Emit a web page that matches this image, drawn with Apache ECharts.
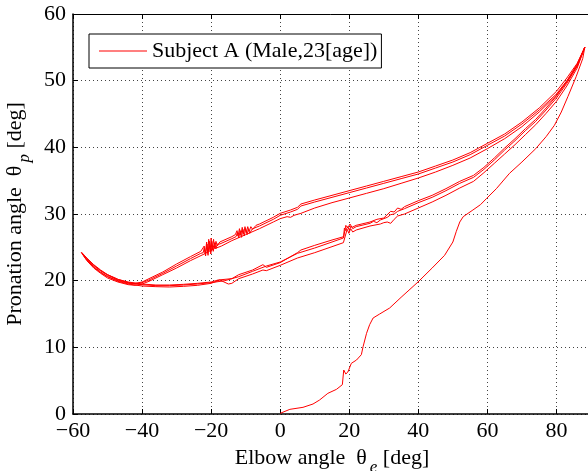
<!DOCTYPE html>
<html><head><meta charset="utf-8">
<script src="https://cdn.jsdelivr.net/npm/echarts@6/dist/echarts.min.js"></script>
<style>html,body{margin:0;padding:0;background:#fff}#c{width:588px;height:471px}</style>
</head><body><div id="c"></div>
<script>
// ---- Data (elbow angle [deg], pronation angle [deg]) ----
const seriesName = 'Subject A (Male,23[age])';
const xRange = [-60, 90];
const yRange = [0, 60];

// initial rise trace
const riseTrace = [[0,0.1],[2.8,0.7],[6.6,1.0],[9.5,1.5],[11.4,2.1],[13.8,3.1],[16.3,3.7],[18.0,4.4],[18.4,6.6],[19.0,6.0],[19.6,6.3],[20.6,7.6],[22.1,8.1],[23.5,8.9],[24.0,10.1],[25.0,12.1],[25.9,13.4],[26.9,14.4],[28.8,15.0],[31.7,15.9],[35,17.5],[39.9,19.8],[44,21.9],[47.6,23.8],[50,25.8],[51,27.4],[52,28.8],[53,29.6],[55.8,30.6],[58,31.4],[59.7,32.3],[62.6,33.8],[66.4,36.1],[70,37.8],[74,39.8],[77,41.6],[79.4,43.3],[81.4,45.3],[83.3,47.6],[85.7,50.6],[87.6,53.3],[88.2,55.0]];

// upper branch traces
const upper1 = [[-57.3,24.0],[-56,23.1],[-54,22.0],[-52,21.2],[-50,20.6],[-47,20.0],[-44,19.6],[-42,19.6],[-40,19.8],[-38,20.3],[-34,21.3],[-30,22.5],[-26,23.6],[-23,24.4],[-22.5,24.5],[-22,25.2],[-21.7,24.0],[-21.3,25.8],[-21,24.1],[-20.7,26.2],[-20.3,24.3],[-20,26.4],[-19.7,24.6],[-19.3,26.2],[-19,24.9],[-18.6,25.9],[-18.2,25.2],[-17.5,25.8],[-14,26.6],[-13,26.9],[-12.5,27.5],[-12.2,26.7],[-11.8,27.8],[-11.4,26.8],[-11,28.0],[-10.6,27.0],[-10.2,28.1],[-9.8,27.2],[-9.4,28.1],[-9,27.4],[-8.5,28.1],[-8,27.7],[-7,28.3],[-6,28.5],[-2,29.5],[0,30.1],[3,30.6],[5,31.0],[6,31.5],[10,32.1],[15,32.8],[20,33.5],[25,34.2],[30,34.9],[35,35.6],[40,36.3],[45,37.2],[50,38.1],[55,39.2],[60,40.6],[65,42.0],[70,43.8],[75,45.9],[80,48.4],[83,50.4],[86,52.6],[88.2,55.0]];
const upper2 = [[-57.6,24.2],[-56,23.3],[-54,22.3],[-52,21.5],[-50,20.9],[-47,20.2],[-44,19.7],[-42,19.5],[-40,19.7],[-38,20.1],[-34,21.1],[-30,22.2],[-26,23.3],[-23,24.1],[-22.3,24.2],[-22,24.9],[-21.6,23.7],[-21.2,25.5],[-20.9,23.8],[-20.5,25.9],[-20.1,24.0],[-19.8,25.9],[-19.4,24.4],[-19.0,25.7],[-18.6,24.8],[-18.2,25.5],[-17.5,25.5],[-14,26.3],[-12.8,26.6],[-12.4,27.2],[-12,26.4],[-11.6,27.5],[-11.2,26.5],[-10.8,27.7],[-10.4,26.7],[-10,27.8],[-9.6,26.9],[-9.2,27.7],[-8.8,27.1],[-8.2,27.7],[-7,28.0],[-6,28.2],[-2,29.2],[0,29.8],[3,30.3],[5,30.7],[6,31.2],[10,31.8],[15,32.5],[20,33.2],[25,33.9],[30,34.6],[35,35.3],[40,36.0],[45,36.9],[50,37.8],[55,38.9],[60,40.3],[65,41.7],[70,43.5],[75,45.6],[80,48.0],[83,50.0],[86,52.3],[88.2,55.0]];
const upper3 = [[-57.4,24.1],[-56,23.0],[-54,21.9],[-52,21.1],[-50,20.4],[-47,19.8],[-44,19.4],[-42,19.3],[-40,19.5],[-38,19.9],[-34,20.9],[-30,21.9],[-26,23.0],[-22,24.0],[-21,24.3],[-20.5,25.2],[-20,24.4],[-19.5,25.3],[-19,24.8],[-17,25.2],[-14,26.0],[-10,26.9],[-6,27.8],[-2,28.8],[0,29.3],[2,29.6],[3,29.5],[4,29.8],[6,30.1],[10,30.9],[15,31.7],[20,32.4],[25,33.1],[30,33.8],[35,34.6],[40,35.4],[45,36.3],[50,37.3],[55,38.4],[60,39.8],[65,41.3],[70,43.1],[75,45.3],[80,47.8],[83,49.8],[86,52.2],[88.2,55.0]];

// lower (return) branch traces
const lower1 = [[88.2,55.0],[86,52.2],[83,49.6],[80,47.4],[77,45.6],[74,43.9],[71,42.5],[68,41.0],[65,39.6],[62,38.1],[59,36.7],[56,35.5],[52,34.6],[48,33.5],[44,32.5],[40,31.7],[36,30.8],[34,30.4],[33,30.0],[32,29.9],[31,29.5],[30,29.3],[29,29.1],[28,28.7],[27,28.9],[26,28.6],[22,28.1],[21,27.8],[20.5,28.2],[20,27.6],[19.5,28.1],[19,27.5],[18.6,27.9],[18.3,26.4],[15,25.8],[10,24.9],[5,24.1],[0,22.8],[-4,22.2],[-8,21.4],[-12,20.6],[-16,20.0],[-20,19.7],[-24,19.5],[-28,19.35],[-32,19.25],[-36,19.25],[-40,19.4],[-44,19.7],[-47,20.1],[-50,20.8],[-52,21.5],[-54,22.3],[-56,23.3],[-57.5,24.2]];
const lower2 = [[88.2,55.0],[86,51.9],[83,49.2],[80,46.9],[77,45.1],[74,43.4],[71,41.9],[68,40.4],[65,39.0],[62,37.6],[59,36.2],[56,34.9],[52,33.9],[48,32.8],[44,31.8],[40,30.9],[36,30.0],[34,29.7],[33,29.2],[32,28.6],[31,28.8],[30,28.7],[29,28.5],[26,28.2],[22,27.6],[21,27.3],[20.4,27.8],[19.9,27.1],[19.4,27.7],[19,27.0],[18.6,27.2],[18.3,25.7],[15,25.1],[10,24.2],[5,23.4],[0,22.3],[-4,21.5],[-5,21.6],[-8,21.0],[-12,20.3],[-14,19.6],[-15,19.5],[-17.5,20.1],[-20,19.6],[-24,19.3],[-28,19.15],[-32,19.05],[-36,19.1],[-40,19.2],[-44,19.5],[-47,19.9],[-50,20.6],[-52,21.3],[-54,22.1],[-56,23.1],[-57.2,24.0]];
const lower3 = [[88.2,55.0],[86,52.5],[83,49.9],[80,47.7],[77,45.9],[74,44.2],[71,42.8],[68,41.3],[65,39.9],[62,38.4],[59,37.0],[56,35.8],[52,34.9],[48,33.8],[44,32.8],[40,32.0],[36,31.1],[35,30.7],[34,30.9],[33,30.3],[32,30.4],[30,29.4],[28,29.2],[26,28.8],[22,28.3],[20.8,28.0],[20.2,28.5],[19.6,27.9],[19,28.3],[18.7,28.1],[18.4,26.6],[15,26.1],[10,25.3],[6,24.6],[5,24.2],[0,22.7],[-4,22.0],[-5,22.4],[-8,21.6],[-12,20.9],[-14,20.3],[-18,20.1],[-20,19.8],[-24,19.6],[-28,19.45],[-32,19.35],[-36,19.35],[-40,19.5],[-44,19.8],[-47,20.2],[-50,20.9],[-52,21.6],[-54,22.4],[-56,23.4],[-57.6,24.3]];

const traces = [riseTrace, upper1, lower1, upper2, lower2, upper3, lower3];

// ---- Chart ----
const FONT = 'Liberation Serif';
const chart = echarts.init(document.getElementById('c'), null, {renderer: 'canvas'});
const minus = v => String(v).replace('-', '\u2212');
const subRich = {
  n: {fontFamily: FONT, fontSize: 22, color: '#000', verticalAlign: 'top'},
  s: {fontFamily: FONT, fontSize: 17, fontStyle: 'italic', color: '#000', verticalAlign: 'top', padding: [12, 0, 0, 3]}
};
const gridDots = {show: true, lineStyle: {color: '#444', type: [1, 3], width: 1}};

chart.setOption({
  animation: false,
  backgroundColor: '#fff',
  grid: {left: 73, top: 14, width: 518, height: 400, outerBoundsMode: 'none', containLabel: false},
  legend: {
    data: [{name: seriesName, icon: 'rect'}], left: 89, top: 34, backgroundColor: '#fff',
    borderColor: '#000', borderWidth: 1, borderRadius: 0, padding: [6, 4, 6, 10],
    itemWidth: 48, itemHeight: 1.2, itemGap: 5, z: 10,
    itemStyle: {color: '#ff0000', borderWidth: 0},
    textStyle: {fontFamily: FONT, fontSize: 22, color: '#000'}
  },
  xAxis: [{
    type: 'value', min: xRange[0], max: xRange[1], interval: 20, position: 'bottom',
    axisLine: {onZero: false, lineStyle: {color: '#000', width: 1.5}},
    axisTick: {inside: true, length: 5, lineStyle: {color: '#000'}},
    axisLabel: {showMaxLabel: false, margin: 6, fontFamily: FONT, fontSize: 22, color: '#000', formatter: minus},
    splitLine: gridDots,
    name: '{n|Elbow angle  θ}{s|e}{n| [deg]}', nameLocation: 'middle', nameGap: 30,
    nameTextStyle: {rich: subRich}
  }, {
    type: 'value', min: xRange[0], max: xRange[1], interval: 20, position: 'top',
    axisLine: {onZero: false, lineStyle: {color: '#000', width: 1}},
    axisTick: {inside: true, length: 5, lineStyle: {color: '#000'}},
    axisLabel: {show: false}, splitLine: {show: false}
  }],
  yAxis: [{
    type: 'value', min: yRange[0], max: yRange[1], interval: 10, position: 'left',
    axisLine: {onZero: false, lineStyle: {color: '#000', width: 1.5}},
    axisTick: {inside: true, length: 5, lineStyle: {color: '#000'}},
    axisLabel: {margin: 7, fontFamily: FONT, fontSize: 22, color: '#000'},
    splitLine: gridDots,
    name: '{n|Pronation angle  θ}{s|p}{n| [deg]}', nameLocation: 'middle', nameGap: 37, nameRotate: 90,
    nameTextStyle: {rich: subRich}
  }],
  series: traces.map(t => ({
    type: 'line', name: seriesName, data: t, symbol: 'none', showSymbol: false,
    lineStyle: {color: '#ff0000', width: 1}, itemStyle: {color: '#ff0000'},
    emphasis: {disabled: true}, z: 2
  }))
});
</script></body></html>
